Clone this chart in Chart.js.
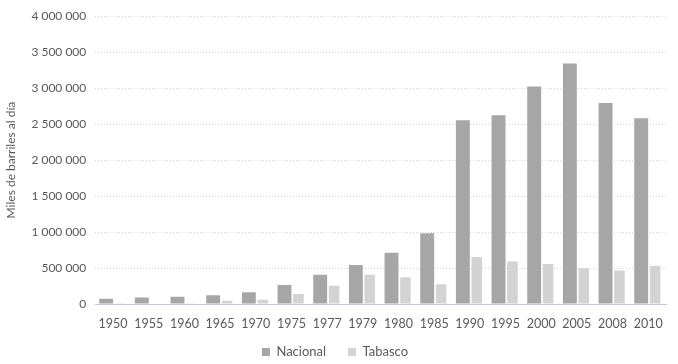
<!DOCTYPE html>
<html>
<head>
<meta charset="utf-8">
<script src="https://cdn.jsdelivr.net/npm/chart.js@4"></script>
<style>
html,body{margin:0;padding:0;background:#fff;}
#wrap{width:678px;height:364px;position:relative;}
</style>
</head>
<body>
<div id="wrap"><canvas id="c" width="678" height="364"></canvas></div>
<script>
const categories = ['1950','1955','1960','1965','1970','1975','1977','1979','1980','1985','1990','1995','2000','2005','2008','2010'];
const nacional = [72000,92000,102000,120000,162000,265000,405000,543000,714000,983000,2553000,2622000,3022000,3343000,2794000,2581000];
const tabasco = [3000,6000,10000,46000,60000,140000,252000,408000,371000,276000,652000,589000,557000,501000,464000,533000];
const yTicks = [0,500000,1000000,1500000,2000000,2500000,3000000,3500000,4000000];

function fmt(v){
  return String(v).replace(/\B(?=(\d{3})+(?!\d))/g, ' ');
}

Chart.defaults.font.family = 'Lato, "Open Sans", sans-serif';
Chart.defaults.color = '#595959';

const LEGEND_PAD = 22;
const legendShift = {
  id:'legendShift',
  afterLayout(chart){
    const lg = chart.legend;
    if(!lg) return;
    const top = 352 - 6.5 - LEGEND_PAD;
    lg.top = top;
    lg.bottom = chart.height;
    lg.height = chart.height - top;
  }
};

new Chart(document.getElementById('c'), {
  type: 'bar',
  data: {
    labels: categories,
    datasets: [
      {label:'Nacional', data: nacional, backgroundColor:'#a6a6a6', barPercentage:1.0, categoryPercentage:0.78},
      {label:'Tabasco', data: tabasco, backgroundColor:'#d3d3d3', barPercentage:0.76, categoryPercentage:0.78}
    ]
  },
  plugins:[legendShift],
  options: {
    responsive:false,
    animation:false,
    layout:{padding:{left:4,right:12,top:10,bottom:0}},
    plugins:{
      legend:{
        position:'bottom',
        maxHeight:21,
        labels:{boxWidth:8,boxHeight:8,font:{size:13},padding:LEGEND_PAD,color:'#595959'}
      },
      tooltip:{enabled:false}
    },
    scales:{
      x:{
        grid:{display:false,drawTicks:false},
        border:{color:'#c9c3d3',width:1},
        ticks:{font:{size:12.5},color:'#595959',padding:12,maxRotation:0}
      },
      y:{
        min:0,max:4000000,
        afterBuildTicks:(ax)=>{ax.ticks = yTicks.map(v=>({value:v}));},
        grid:{color:'#d0d0d8',lineWidth:1,drawTicks:false},
        border:{display:false,dash:[1,2]},
        ticks:{font:{size:12},color:'#595959',padding:9,callback:(v)=>fmt(v)},
        title:{display:true,text:'Miles de barriles al día',font:{size:12},color:'#595959',padding:{top:0,bottom:4}}
      }
    }
  }
});
</script>
</body>
</html>
